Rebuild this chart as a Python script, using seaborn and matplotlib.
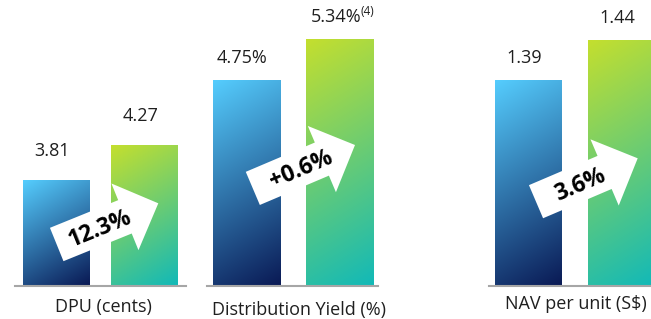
import numpy as np
import pandas as pd
import matplotlib
matplotlib.use("Agg")
import matplotlib.pyplot as plt
from matplotlib.patches import Polygon
from matplotlib.colors import to_rgb
import seaborn as sns

# ---------------- data ----------------
periods = ["Previous", "Current"]
metrics = ["DPU (cents)", "Distribution Yield (%)", "NAV per unit (S$)"]
dpu = [3.81, 4.27]
dist_yield = [4.75, 5.34]
nav = [1.39, 1.44]
value_labels = [["3.81", "4.27"], ["4.75%", "5.34%"], ["1.39", "1.44"]]
change_labels = ["12.3%", "+0.6%", "3.6%"]
footnote = "(4)"

# ---------------- style ----------------
sns.set_style("white")
plt.rcParams["font.family"] = ["Open Sans", "DejaVu Sans"]

W, H = 651, 319
fig = plt.figure(figsize=(W / 100, H / 100), dpi=100)
fig.patch.set_facecolor("white")

# layout (pixels, origin top-left)
axes_px = [(15, 186), (207.3, 378.3), (489, 651)]
xlims = [(-0.464, 1.471), (-0.4185, 1.414), (-0.4217, 1.3146)]
ylims = [(2.42, 6.206), (1.81, 5.918), (1.134, 1.4909)]
widths = [0.753, 0.72, 0.715]
base_px = 285.5
label_gap = [24.5, 18, 18]
title_pos = [(103, 311.7), (299, 315), (576.3, 309.3)]
arrows = [((56.7, 244.5), (158.3, 203.3)),
          ((252.8, 188.4), (355, 145)),
          ((536, 201.7), (637.7, 158.3))]
arrow_text_pos = [(100, 229), (301.7, 170), (580, 185)]

grad_cols = [(to_rgb("#55CDFE"), to_rgb("#0A1A55")),
             (to_rgb("#C4DF2E"), to_rgb("#12B9B8"))]
text_col = "#1f1f1f"

series = [dpu, dist_yield, nav]

for k in range(3):
    x0p, x1p = axes_px[k]
    ax = fig.add_axes([x0p / W, (H - base_px) / H, (x1p - x0p) / W, base_px / H])
    df = pd.DataFrame({"period": periods, "value": series[k]})
    sns.barplot(data=df, x="period", y="value", width=widths[k], ax=ax,
                color="gray", errorbar=None)
    ax.set_xlim(*xlims[k])
    ax.set_ylim(*ylims[k])
    ylo = ylims[k][0]
    bars = list(ax.patches)
    for i, p in enumerate(bars):
        bx, bw = p.get_x(), p.get_width()
        top = p.get_y() + p.get_height()
        bottom = max(p.get_y(), ylo)
        (px0, py0) = ax.transData.transform((bx, bottom))
        (px1, py1) = ax.transData.transform((bx + bw, top))
        wpx, hpx = abs(px1 - px0), abs(py1 - py0)
        nx, ny = max(int(wpx), 2), max(int(hpx), 2)
        XX, YY = np.meshgrid(np.linspace(0, wpx, nx), np.linspace(0, hpx, ny))
        t = (0.6 * XX + YY) / (0.6 * wpx + hpx)
        c0 = np.array(grad_cols[i][0])
        c1 = np.array(grad_cols[i][1])
        img = c0[None, None, :] * (1 - t[..., None]) + c1[None, None, :] * t[..., None]
        ax.imshow(img, extent=(bx, bx + bw, bottom, top), origin="upper",
                  aspect="auto", interpolation="bilinear", zorder=2)
        p.set_visible(False)
        txt = ax.annotate(value_labels[k][i], xy=(bx + bw / 2, top),
                          xytext=(-4 * 0.72, label_gap[k] * 0.72),
                          textcoords="offset points", ha="center", va="baseline",
                          fontsize=13, color=text_col, annotation_clip=False)
        if k == 1 and i == 1:
            ax.annotate(footnote, xy=(1, 1), xycoords=txt, xytext=(0.0, 2.5),
                        textcoords="offset points", ha="left", va="top",
                        fontsize=8.5, color=text_col, annotation_clip=False)
    ax.set_xlim(*xlims[k])
    ax.set_ylim(*ylims[k])
    ax.set_xticks([])
    ax.set_yticks([])
    ax.set_xlabel("")
    ax.set_ylabel("")
    ax.set_facecolor("none")
    for s in ["top", "left", "right"]:
        ax.spines[s].set_visible(False)
    ax.spines["bottom"].set_color("#A6A6A6")
    ax.spines["bottom"].set_linewidth(1.5)
    ax.spines["bottom"].set_zorder(4)

    # category title
    tx, ty = title_pos[k]
    fig.text(tx / W, 1 - ty / H, metrics[k], ha="center", va="baseline",
             fontsize=13, color=text_col)


def arrow_poly(tail, tip, w=36, hw=72, hl=36):
    tail = np.array(tail, float)
    tip = np.array(tip, float)
    d = tip - tail
    L = np.hypot(*d)
    u = d / L
    n = np.array([-u[1], u[0]])
    b = tail + u * (L - hl)
    pts = [tail + n * w / 2, b + n * w / 2, b + n * hw / 2, tip,
           b - n * hw / 2, b - n * w / 2, tail - n * w / 2]
    return np.array([(x / W, 1 - y / H) for x, y in pts])


for k in range(3):
    tail, tip = arrows[k]
    poly = Polygon(arrow_poly(tail, tip), closed=True, transform=fig.transFigure,
                   facecolor="white", edgecolor="none", zorder=5)
    fig.add_artist(poly)
    rot = np.degrees(np.arctan2(tail[1] - tip[1], tip[0] - tail[0]))
    ax_, ay_ = arrow_text_pos[k]
    fig.text(ax_ / W, 1 - ay_ / H, change_labels[k], rotation=rot,
             rotation_mode="anchor", ha="center", va="center",
             fontsize=16.5, fontweight="bold", color="black", zorder=6)

fig.savefig("out.png", dpi=100, facecolor="white")
